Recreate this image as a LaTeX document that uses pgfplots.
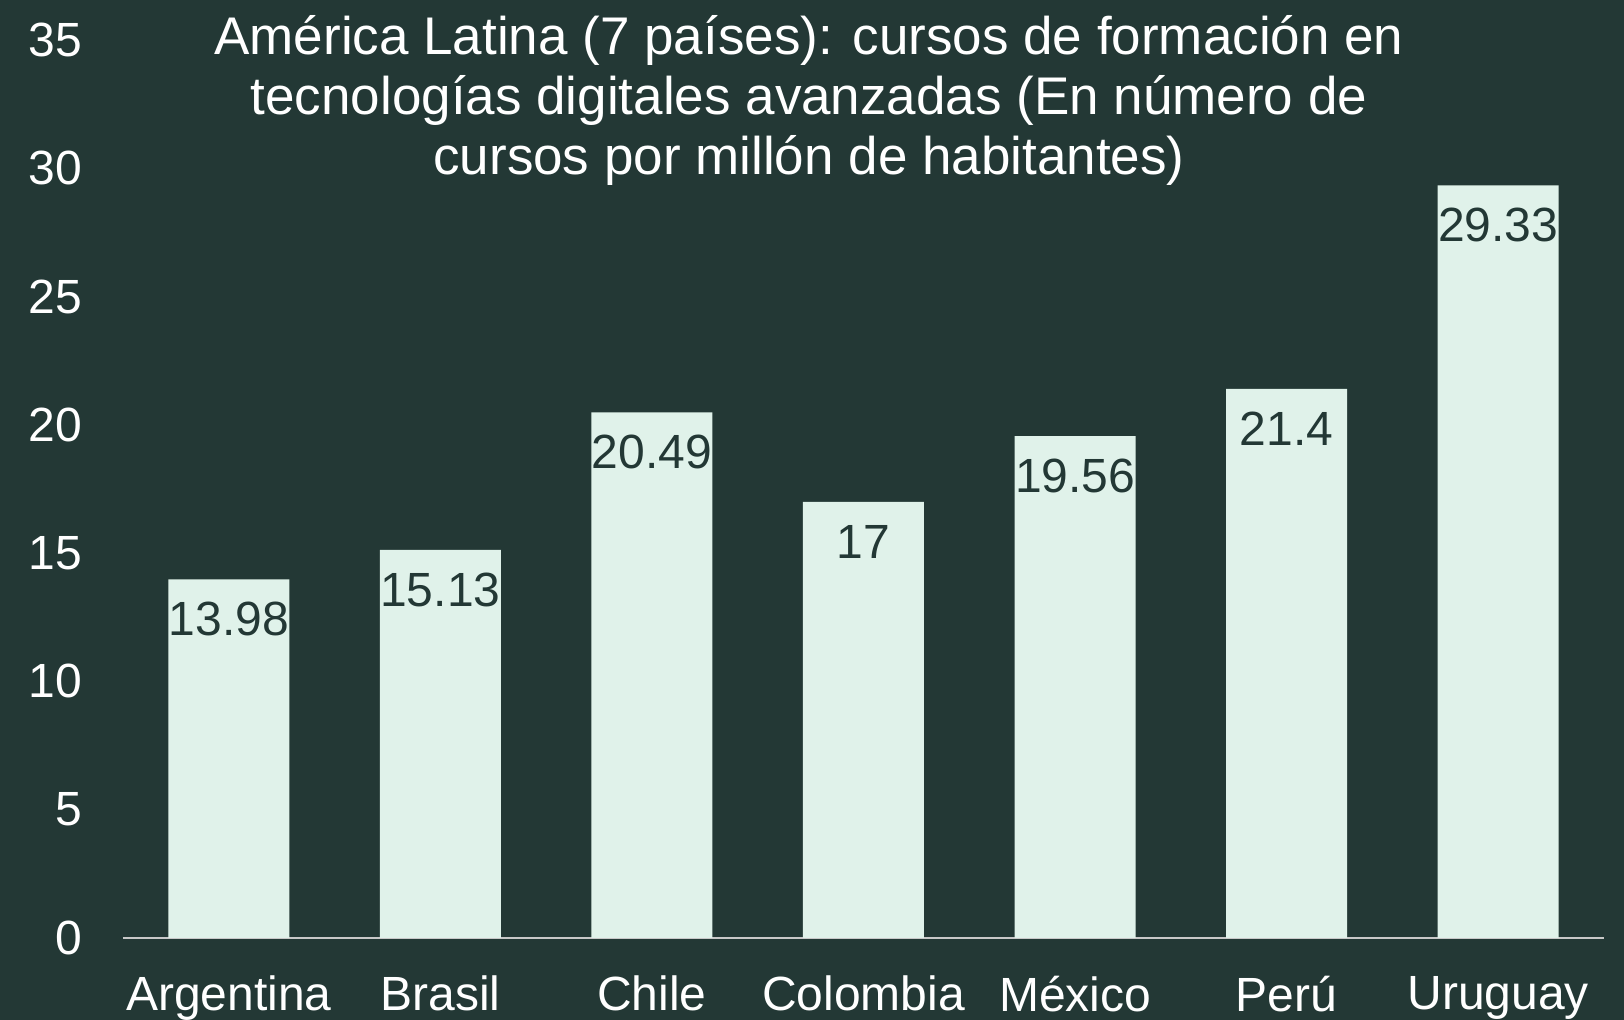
\documentclass[border=0pt]{standalone}
\usepackage{pgfplots}
\pgfplotsset{compat=1.18}
\usepackage{fontspec}
\setmainfont{Liberation Sans}
\definecolor{bg}{HTML}{233835}
\definecolor{barc}{HTML}{E0F2EA}
\definecolor{axl}{HTML}{C8C8C8}
\begin{document}
\begin{tikzpicture}
\fill[bg] (0,0) rectangle (812pt,510pt);
\begin{axis}[
  at={(61.5pt,41pt)}, anchor=south west,
  scale only axis, width=740.5pt, height=449pt,
  xmin=-0.5, xmax=6.5, ymin=0, ymax=35,
  axis x line=bottom, axis y line=none,
  x axis line style={draw=axl, line width=1pt, -},
  xtick=data,
  xticklabels={Argentina,Brasil,Chile,Colombia,México,Perú,Uruguay},
  ytick={0,5,...,35},
  major tick length=0pt,
  xticklabel style={font=\fontsize{24}{28}\selectfont, text=white, yshift=-15.5pt},
  /pgf/number format/assume math mode=true,
  clip=false,
  ybar, bar width=60.5pt,
]
\addplot[fill=barc, draw=none,
  nodes near coords,
  nodes near coords style={font=\fontsize{24}{28}\selectfont, text=bg, anchor=center, yshift=-20pt},
  point meta=explicit symbolic]
  coordinates {(0,13.98)[13.98] (1,15.13)[15.13] (2,20.49)[20.49] (3,17)[17] (4,19.56)[19.56] (5,21.4)[21.4] (6,29.33)[29.33]};
\foreach \v in {0,5,...,35} {
  \edef\tmp{\noexpand\node[anchor=east, text=white, font=\noexpand\fontsize{24}{28}\noexpand\selectfont] at (axis cs:-0.5,\v) [xshift=-17pt] {\v};}
  \tmp
}
\end{axis}
\node[align=center, text=white, font=\fontsize{26.5}{30}\selectfont, anchor=north] at (404.5pt,506pt)
  {América Latina (7 países): cursos de formación en\\tecnologías digitales avanzadas (En número de\\cursos por millón de habitantes)};
\pgfresetboundingbox
\useasboundingbox (0,0) rectangle (812pt,510pt);
\end{tikzpicture}
\end{document}
